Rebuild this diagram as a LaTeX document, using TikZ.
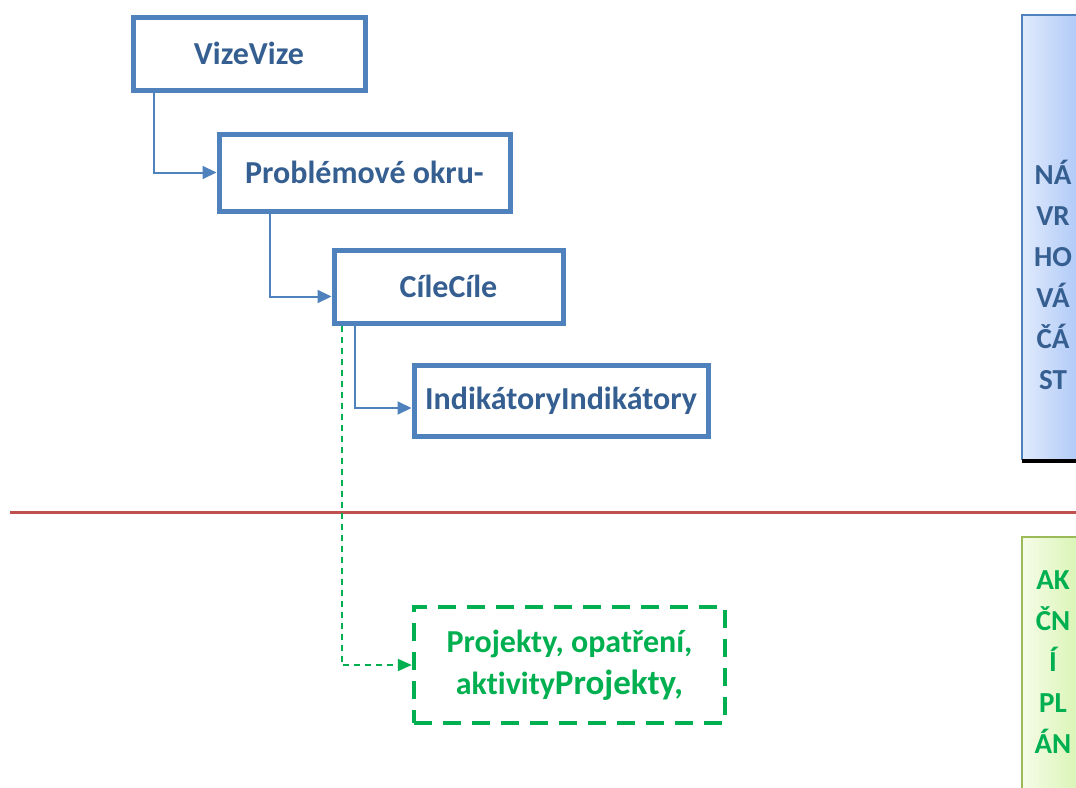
\documentclass[tikz,border=0pt]{standalone}
\usepackage{fontspec}
\setmainfont{Carlito}[Ligatures=NoCommon]
\usetikzlibrary{arrows.meta,calc}
\definecolor{boxblue}{RGB}{79,129,189}
\definecolor{txtblue}{RGB}{54,95,145}
\definecolor{lineRed}{RGB}{192,80,77}
\definecolor{grn}{RGB}{0,176,80}
\definecolor{grnborder}{RGB}{155,187,89}
\tikzset{
  bluebox/.style={draw=boxblue, line width=5pt, fill=white, inner sep=0pt,
    text=txtblue, font=\fontsize{32}{36}\selectfont\bfseries},
  greenbox/.style={draw=grn, line width=4.5pt, dash pattern=on 18pt off 11pt, fill=white,
    inner sep=0pt, text=grn, align=center, font=\fontsize{32}{42}\selectfont\bfseries},
  conn/.style={draw=boxblue, line width=2pt, -{Triangle[length=14pt,width=13pt]}},
  gconn/.style={draw=grn, line width=2pt, dash pattern=on 6pt off 5pt,
    -{Triangle[length=14pt,width=12pt]}},
  sidetext/.style={font=\fontsize{29}{41}\selectfont\bfseries, align=center}
}
\begin{document}
\begin{tikzpicture}[x=1pt,y=-1pt]
\useasboundingbox (0,0) rectangle (1076,787);
% separator
\draw[lineRed, line width=3pt] (10,512) -- (1076,512);
% side panels
\begin{scope}
\clip (0,0) rectangle (1076,787);
\shade[left color={rgb,255:red,224;green,234;blue,252}, right color={rgb,255:red,166;green,195;blue,246}]
  (1022,15) rectangle (1090,460);
\draw[boxblue, line width=1.5pt] (1090,15) -- (1022,15) -- (1022,460);
\draw[black, line width=4pt] (1022,461) -- (1090,461);
\shade[left color={rgb,255:red,245;green,252;blue,232}, right color={rgb,255:red,212;green,243;blue,170}]
  (1022,537) rectangle (1090,800);
\draw[grnborder, line width=2pt] (1090,537) -- (1022,537) -- (1022,800);
\end{scope}
\node[sidetext, text=txtblue] (nav) at (1053,275) {NÁ\\VR\\HO\\VÁ\\ČÁ\\ST};
\node[sidetext, text=grn] (akc) at (1053,662) {AK\\ČN\\Í\\PL\\ÁN};
% boxes
\node[bluebox, minimum width=232pt, minimum height=73pt] (vize) at (249,53.5) {VizeVize};
\node[bluebox, minimum width=291pt, minimum height=77pt] (prob) at (364.5,172.5) {Problémové okru-};
\node[bluebox, minimum width=229pt, minimum height=73pt] (cile) at (448.5,286.5) {CíleCíle};
\node[bluebox, minimum width=294pt, minimum height=71pt] (ind) at (561,400.5) {IndikátoryIndikátory};
\node[greenbox, minimum width=311pt, minimum height=116pt] (proj) at (569.5,665)
  {Projekty, opatření,\\aktivity{\fontsize{35}{42}\selectfont Projekty,}};
% connectors
\draw[conn] ([xshift=23pt]vize.south west) |- (prob.west);
\draw[conn] ([xshift=53pt]prob.south west) |- ([yshift=-10pt]cile.west);
\draw[conn] ([xshift=23pt]cile.south west) |- ([yshift=-7.5pt]ind.west);
\draw[gconn] ([xshift=10pt]cile.south west) |- (proj.west);
\end{tikzpicture}
\end{document}
